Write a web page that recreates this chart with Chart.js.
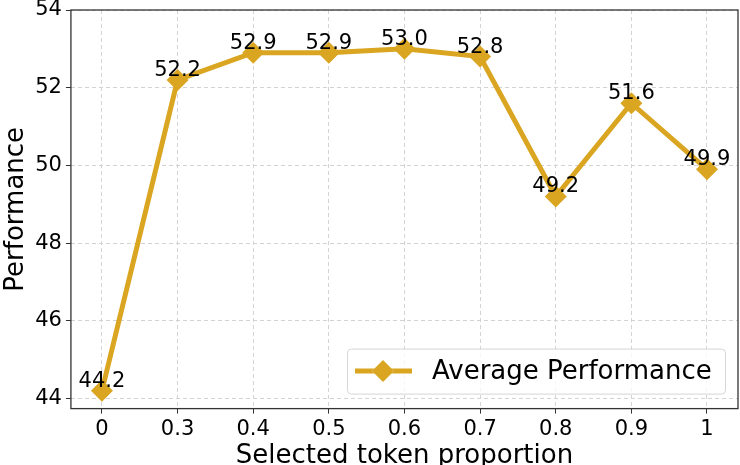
<!DOCTYPE html>
<html>
<head>
<meta charset="utf-8">
<script src="https://cdn.jsdelivr.net/npm/chart.js@4.4.1/dist/chart.umd.min.js"></script>
<style>
  html, body { margin: 0; padding: 0; background: #fff; }
  #wrap { width: 740px; height: 465px; position: relative; }
</style>
</head>
<body>
<div id="wrap"><canvas id="grafico"></canvas></div>
<script>
// dados
const proporcoes = ['0', '0.3', '0.4', '0.5', '0.6', '0.7', '0.8', '0.9', '1'];
const desempenho = [44.2, 52.2, 52.9, 52.9, 53.0, 52.8, 49.2, 51.6, 49.9];
const ticksY = [44, 46, 48, 50, 52, 54];
const nomeSerie = 'Average Performance';

const COR = '#DAA520';
const FONTE = 'DejaVu Sans';

// rótulos de valor acima de cada ponto
const rotulosValor = {
    id: 'rotulosValor',
    afterDatasetsDraw(chart) {
        const { ctx } = chart;
        const meta = chart.getDatasetMeta(0);
        ctx.save();
        ctx.font = `21px "${FONTE}"`;
        ctx.fillStyle = '#000';
        ctx.textAlign = 'center';
        ctx.textBaseline = 'alphabetic';
        meta.data.forEach((pt, i) => {
            ctx.fillText(desempenho[i].toFixed(1), pt.x, pt.y - 4);
        });
        ctx.restore();
    }
};

// moldura completa (4 lados)
const moldura = {
    id: 'moldura',
    afterDatasetsDraw(chart) {
        const { ctx, chartArea: a } = chart;
        ctx.save();
        ctx.strokeStyle = '#333';
        ctx.lineWidth = 1.3;
        ctx.strokeRect(a.left, a.top, a.right - a.left, a.bottom - a.top);
        ctx.restore();
    }
};

// legenda no canto inferior direito, estilo matplotlib
const legenda = {
    id: 'legenda',
    afterDraw(chart) {
        const { ctx, chartArea } = chart;
        const w = 378, h = 45;
        const x = chartArea.right - 13 - w;
        const y = chartArea.bottom - 15 - h;
        ctx.save();
        ctx.fillStyle = 'rgba(255,255,255,0.8)';
        ctx.strokeStyle = '#d6d6d6';
        ctx.lineWidth = 1;
        ctx.beginPath();
        ctx.roundRect(x + 0.5, y + 0.5, w, h, 4);
        ctx.fill();
        ctx.stroke();
        const cy = y + h / 2;
        ctx.strokeStyle = COR;
        ctx.lineWidth = 5;
        ctx.beginPath();
        ctx.moveTo(x + 8, cy);
        ctx.lineTo(x + 65, cy);
        ctx.stroke();
        Chart.helpers.drawPoint(ctx, { pointStyle: 'rectRot', radius: 11, rotation: 0, borderWidth: 0 }, x + 36, cy);
        ctx.fillStyle = COR;
        ctx.fill();
        ctx.fillStyle = '#000';
        ctx.font = `26px "${FONTE}"`;
        ctx.textBaseline = 'middle';
        ctx.fillText(nomeSerie, x + 85, cy + 1);
        ctx.restore();
    }
};

const grade = {
    color: '#d3d3d3',
    lineWidth: 1,
    tickColor: '#333',
    tickLength: 5,
    tickBorderDash: [],
    drawOnChartArea: true
};

// sem folga extra das extremidades dos rótulos
const semFolga = (scale) => {
    scale.paddingLeft = 0;
    scale.paddingRight = 0;
    scale.paddingTop = 0;
    scale.paddingBottom = 0;
};

new Chart(document.getElementById('grafico'), {
    type: 'line',
    data: {
        datasets: [{
            label: nomeSerie,
            data: desempenho.map((v, i) => ({ x: i, y: v })),
            borderColor: COR,
            backgroundColor: COR,
            borderWidth: 5,
            tension: 0,
            pointStyle: 'rectRot',
            pointRadius: 11,
            pointBorderWidth: 0
        }]
    },
    options: {
        responsive: true,
        maintainAspectRatio: false,
        animation: false,
        layout: { autoPadding: false, padding: { top: 10, right: 2, left: 0, bottom: 0 } },
        plugins: {
            legend: { display: false },
            tooltip: { enabled: false }
        },
        scales: {
            x: {
                type: 'linear',
                min: -0.41,
                max: 8.41,
                afterBuildTicks: (axis) => {
                    axis.ticks = proporcoes.map((_, i) => ({ value: i }));
                },
                afterFit: semFolga,
                ticks: {
                    color: '#000',
                    font: { family: FONTE, size: 21 },
                    padding: 3,
                    maxRotation: 0,
                    callback: (value) => proporcoes[value]
                },
                grid: { ...grade },
                border: { display: false, dash: [4, 3] },
                title: {
                    display: true,
                    text: 'Selected token proportion',
                    color: '#000',
                    font: { family: FONTE, size: 26 },
                    padding: { top: -4, bottom: -7 }
                }
            },
            y: {
                min: 43.74,
                max: 54,
                afterBuildTicks: (axis) => {
                    axis.ticks = ticksY.map(v => ({ value: v }));
                },
                afterFit: semFolga,
                ticks: {
                    color: '#000',
                    font: { family: FONTE, size: 21 },
                    padding: 4
                },
                grid: { ...grade },
                border: { display: false, dash: [4, 3] },
                title: {
                    display: true,
                    text: 'Performance',
                    color: '#000',
                    font: { family: FONTE, size: 26 },
                    padding: { top: 1, bottom: -1 }
                }
            }
        }
    },
    plugins: [moldura, rotulosValor, legenda]
});
</script>
</body>
</html>
